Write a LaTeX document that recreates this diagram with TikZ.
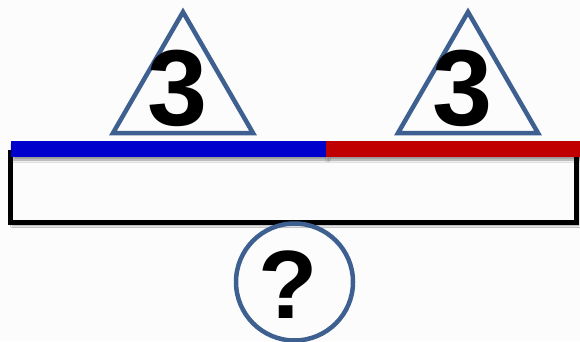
\documentclass[tikz,border=0pt]{standalone}
\usepackage{fontspec}
\setmainfont{Liberation Sans}
\usetikzlibrary{shadows.blur}

\definecolor{bgwhite}{HTML}{FCFCFC}
\definecolor{steel}{HTML}{3D6090}
\definecolor{barblue}{HTML}{0000CC}
\definecolor{barred}{HTML}{C00000}

\tikzset{
	tri/.style={draw=steel, line width=4.5pt, line join=miter},
	big/.style={anchor=base, inner sep=0pt, font=\fontsize{108}{108}\selectfont\bfseries},
	shade/.style={blur shadow={shadow xshift=2pt, shadow yshift=-3pt, shadow blur steps=6, shadow opacity=40}}
}

\begin{document}
\begin{tikzpicture}[x=1pt, y=1pt]
	\fill[bgwhite] (0,0) rectangle (580,341);
	\useasboundingbox (0,0) rectangle (580,341);
	% the box and the bar on top of it
	\draw[line width=5pt, fill=bgwhite, shade] (10.5,189) rectangle (576.5,118.5);
	\fill[barblue, shade] (11,184) rectangle (326,200);
	\fill[barred, shade] (326,184) rectangle (580,200);
	% the two triangles
	\draw[tri] (113,208) -- (183,329) -- (253,208) -- cycle;
	\draw[tri] (398,208) -- (468,329) -- (538,208) -- cycle;
	\node[big] (T1) at (178,216) {3};
	\node[big] (T2) at (463,216) {3};
	% the unknown
	\node[draw=steel, line width=4.5pt, circle, minimum size=117pt, inner sep=0pt] (Q) at (294.5,59) {};
	\node[anchor=base, inner sep=0pt, font=\fontsize{97}{97}\selectfont\bfseries] (Qm) at (288,23) {?};
\end{tikzpicture}
\end{document}
